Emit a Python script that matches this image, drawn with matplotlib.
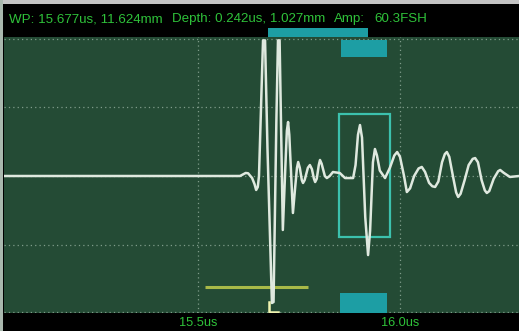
import matplotlib.pyplot as plt
from matplotlib.patches import Rectangle

# A-scan trace: time [us] vs amplitude [%FSH]
t_us = [15.020, 15.257, 15.604, 15.618, 15.624, 15.634, 15.640, 15.644, 15.648,
        15.651, 15.657, 15.661, 15.666, 15.672, 15.683, 15.687, 15.694, 15.698,
        15.702, 15.710, 15.716, 15.720, 15.723, 15.726, 15.735, 15.740, 15.745,
        15.748, 15.752, 15.757, 15.760, 15.764, 15.772, 15.777, 15.782, 15.787,
        15.790, 15.794, 15.799, 15.802, 15.806, 15.814, 15.819, 15.826, 15.834,
        15.851, 15.864, 15.884, 15.890, 15.896, 15.901, 15.906, 15.914, 15.921,
        15.926, 15.933, 15.938, 15.943, 15.950, 15.963, 15.975, 15.986, 15.993,
        16.000, 16.010, 16.017, 16.025, 16.035, 16.046, 16.054, 16.062, 16.072,
        16.080, 16.087, 16.095, 16.104, 16.111, 16.116, 16.122, 16.131, 16.139,
        16.144, 16.150, 16.160, 16.170, 16.180, 16.186, 16.193, 16.202, 16.210,
        16.215, 16.221, 16.232, 16.243, 16.248, 16.256, 16.272, 16.295]
amp = [0.0, 0.0, 0.0, 2.2, 2.0, -1.5, -6.0, -10.2, -8.0,
       0.0, 60.0, 99.0, 99.0, 20.0, -92.7, -92.0, 40.0, 99.0,
       99.0, -39.4, 5.0, 33.0, 39.4, 30.0, -27.0, -10.0, 6.0,
       10.2, 6.0, -3.0, -5.1, -3.0, 6.0, 8.0, 5.0, -2.0,
       -4.4, -2.0, 8.0, 11.7, 9.0, 0.0, -1.5, 0.0, 2.9,
       2.2, -1.5, -1.5, 8.0, 30.0, 37.2, 28.0, -30.0, -57.7,
       -40.0, 10.0, 19.7, 15.0, 4.0, -1.5, 6.0, 15.0, 17.5,
       14.0, 0.0, -11.7, -9.0, 0.0, 5.5, 6.6, 3.0, -5.0,
       -7.5, -8.0, -4.0, 10.0, 16.0, 17.5, 14.0, 0.0, -12.0,
       -15.3, -13.0, -3.0, 8.0, 12.5, 13.1, 10.0, -3.0, -10.5,
       -12.4, -11.0, -2.0, 3.5, 4.4, 2.5, -0.7, 0.0]

# gates and markers
gate_a = (15.849, 15.975, -44.5, 45.3)      # t0, t1, amp0, amp1
gate_top_bar = (15.673, 15.921, 101.5, 108.0)
gate_blocks = [(15.854, 15.968, 86.9, 99.3), (15.852, 15.968, -100.0, -85.4)]
if_gate = (15.517, 15.772, -81.0)
marker_t = [15.676, 15.676, 15.698]
marker_a = [-92.0, -99.5, -99.5]

v_grid = [15.5, 16.0]
h_grid = [-99.3, -50.4, 0.0, 50.4, 100.0]
x_labels = ["15.5us", "16.0us"]
info = ["WP: 15.677us, 11.624mm", "Depth: 0.242us, 1.027mm", "Amp:", "60.3FSH"]
info_x = [9, 172, 334, 374]

green_txt = "#2fc23a"
teal = "#1d9ea4"

fig = plt.figure(figsize=(5.19, 3.31), dpi=100, facecolor="black")
ax = fig.add_axes([4 / 519, 18 / 331, 515 / 519, 276 / 331])
ax.set_facecolor("#244b35")
ax.set_xlim(15.0198, 16.2946)
ax.set_ylim(-100.0, 101.46)
ax.set_xticks([])
ax.set_yticks([])
for s in ax.spines.values():
    s.set_visible(False)

for x in v_grid:
    ax.axvline(x, color="#7f9c8a", lw=0.9, ls=(0, (1, 2.5)), zorder=1)
for y in h_grid:
    ax.axhline(y, color="#7f9c8a", lw=0.9, ls=(0, (1, 2.5)), zorder=1)

# gate boxes
ax.add_patch(Rectangle((gate_a[0], gate_a[2]), gate_a[1] - gate_a[0], gate_a[3] - gate_a[2],
                       fill=False, ec="#3cc1ad", lw=1.6, zorder=3))
ax.add_patch(Rectangle((gate_top_bar[0], gate_top_bar[2]), gate_top_bar[1] - gate_top_bar[0],
                       gate_top_bar[3] - gate_top_bar[2], fc=teal, ec="none",
                       clip_on=False, zorder=3))
for g in gate_blocks:
    ax.add_patch(Rectangle((g[0], g[2]), g[1] - g[0], g[3] - g[2], fc=teal, ec="none", zorder=3))
ax.plot([if_gate[0], if_gate[1]], [if_gate[2], if_gate[2]], color="#a9b948", lw=2.2,
        solid_capstyle="butt", zorder=3)

ax.plot(t_us, amp, color="#dfe9df", lw=1.8, zorder=4, solid_joinstyle="round")
ax.plot(marker_t, marker_a, color="#f0f4b0", lw=1.8, zorder=5)

# border strips
fig.patches.append(Rectangle((0, 327 / 331), 1, 4 / 331, transform=fig.transFigure,
                             fc="#c4c4c4", ec="none"))
fig.patches.append(Rectangle((0, 0), 3 / 519, 1, transform=fig.transFigure,
                             fc="#a9b8ae", ec="none"))

for s, x in zip(info, info_x):
    fig.text(x / 519, 1 - 19 / 331, s, color=green_txt, fontsize=9.6, va="center",
             ha="left", family="Liberation Sans")
for s, x in zip(x_labels, v_grid):
    ax.annotate(s, (x, 0), xycoords=("data", "figure fraction"), xytext=(0, 8),
                textcoords="offset pixels", ha="center", va="center",
                color=green_txt, fontsize=9.2, family="Liberation Sans")

fig.savefig("out.png", dpi=100, facecolor="black")
